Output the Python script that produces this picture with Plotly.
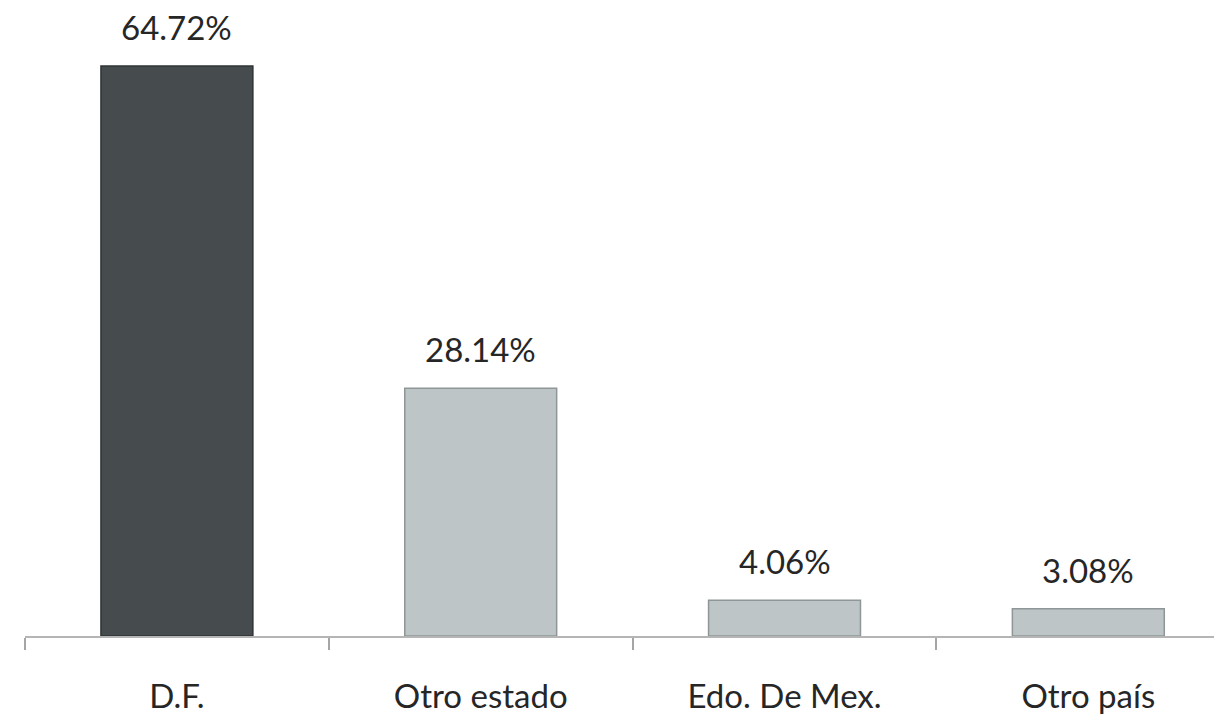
import plotly.graph_objects as go

categories = ["D.F.", "Otro estado", "Edo. De Mex.", "Otro país"]
values = [64.72, 28.14, 4.06, 3.08]
labels = ["64.72%", "28.14%", "4.06%", "3.08%"]

DARK = "#464b4e"
LIGHT = "#bec5c6"
colors = [DARK, LIGHT, LIGHT, LIGHT]
edges = ["#2f3436", "#8f9698", "#8f9698", "#8f9698"]

fig = go.Figure()
fig.add_trace(
    go.Bar(
        x=categories,
        y=values,
        marker=dict(color=colors, line=dict(color=edges, width=1.5)),
        hoverinfo="skip",
    )
)

# value labels sit a little above each bar
for cat, val, lab in zip(categories, values, labels):
    fig.add_annotation(
        x=cat,
        y=val,
        text=lab,
        showarrow=False,
        yanchor="bottom",
        yshift=17,
        font=dict(size=33, color="#262626"),
    )

# the page body keeps its default 8px margin, so the figure is 8px smaller
fig.update_layout(
    width=1214,
    height=706,
    margin=dict(l=17, r=0, t=0, b=78),
    plot_bgcolor="white",
    paper_bgcolor="white",
    font=dict(family="Lato, 'Open Sans', sans-serif", size=33, color="#262626"),
    bargap=0.5,
    showlegend=False,
    xaxis=dict(
        range=[-0.5, 3.44],
        automargin=False,
        showline=True,
        linecolor="#b5b5b5",
        linewidth=1.5,
        ticks="outside",
        tickson="boundaries",
        ticklen=12,
        tickcolor="#a6a6a6",
        tickwidth=1.5,
        ticklabelstandoff=31,
        showgrid=False,
        tickfont=dict(size=33, color="#262626"),
    ),
    yaxis=dict(
        range=[0, 71.3],
        visible=False,
        showgrid=False,
        zeroline=False,
        automargin=False,
    ),
)

fig.write_html("out.html")
